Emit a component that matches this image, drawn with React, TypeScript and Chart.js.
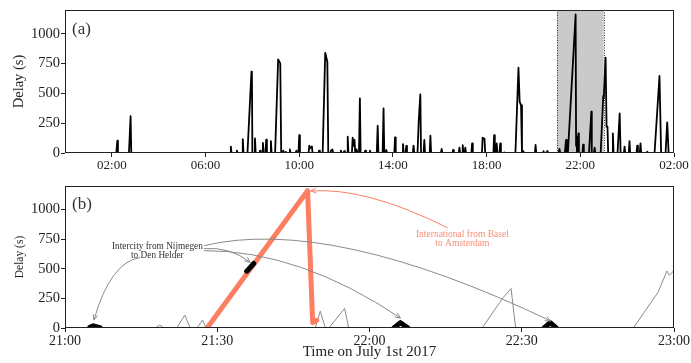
import React, { useEffect, useRef } from 'react';
import { Chart, registerables } from 'chart.js';
Chart.register(...registerables);

const FONT = '"Liberation Serif", "DejaVu Serif", serif';

// ---------- Panel (a): delay over the whole day (hours since 00:00, July 1st) ----------
const topHours = [
  0,
  2.19, 2.235, 2.26,
  2.73, 2.8, 2.83,
  7.05, 7.08, 7.11,
  7.31, 7.34, 7.37,
  7.56, 7.59, 7.62,
  7.79, 7.96, 7.98, 8.0,
  8.08, 8.11, 8.14,
  8.3, 8.33, 8.36,
  8.42, 8.45, 8.48,
  8.56, 8.59, 8.62,
  8.76, 8.79, 8.82,
  8.97, 9.1, 9.19, 9.23,
  9.29, 9.32, 9.35,
  9.4, 9.43, 9.46,
  9.57, 9.6, 9.63,
  9.85, 9.88, 9.91,
  9.97, 10.0, 10.03,
  10.4, 10.43, 10.46, 10.54, 10.57,
  10.82, 10.85, 10.88,
  11.0, 11.11, 11.2, 11.24,
  11.32, 11.35, 11.42, 11.45,
  11.75, 11.78, 11.81,
  11.89, 11.92, 11.95,
  12.04, 12.07, 12.1,
  12.25, 12.28, 12.33, 12.36, 12.39,
  12.42, 12.45, 12.48,
  12.55, 12.59, 12.62,
  12.79, 12.82, 12.85,
  12.99, 13.02, 13.05,
  13.31, 13.35, 13.38,
  13.56, 13.6, 13.63,
  13.69, 13.72, 13.75,
  14.06, 14.09, 14.12,
  14.4, 14.43, 14.46,
  14.54, 14.57, 14.6,
  14.85, 14.88, 14.91,
  15.05, 15.1, 15.17, 15.2,
  15.31, 15.34, 15.37,
  15.57, 15.6, 15.63,
  16.05, 16.08, 16.11,
  16.54, 16.57, 16.6,
  16.81, 16.84, 16.87,
  16.95, 16.98, 17.01,
  17.06, 17.09, 17.12,
  17.35, 17.38, 17.41,
  17.8, 17.83, 17.91, 17.94,
  18.29, 18.32, 18.35,
  18.4, 18.43, 18.46,
  18.55, 18.58, 18.61,
  18.73, 18.76, 18.79,
  19.23, 19.36, 19.41, 19.47, 19.51,
  19.54, 19.57, 19.6,
  20.06, 20.09, 20.12,
  20.4, 20.43, 20.46,
  20.55, 20.58, 20.61,
  21.08, 21.11, 21.14,
  21.34, 21.39, 21.42,
  21.43, 21.45, 21.47,
  21.8, 21.82, 21.84, 21.86,
  21.87, 21.92, 21.94,
  22.09, 22.12, 22.15,
  22.37, 22.47, 22.49,
  22.58, 22.61, 22.64,
  22.87, 22.98, 23.0, 23.08, 23.12, 23.16, 23.19,
  23.36, 23.39, 23.42,
  23.59, 23.68, 23.72,
  23.86, 23.89, 23.92,
  24.07, 24.1, 24.13,
  24.4, 24.43, 24.46,
  24.54, 24.57, 24.6,
  24.83, 24.86, 24.89,
  25.17, 25.38, 25.45,
  25.64, 25.71, 25.77,
  26,
];
const topDelays = [
  0,
  0, 103, 0,
  0, 310, 0,
  0, 53, 0,
  0, 20, 0,
  0, 117, 0,
  0, 682, 660, 0,
  0, 123, 0,
  0, 20, 0,
  0, 84, 0,
  0, 112, 0,
  0, 100, 0,
  0, 786, 752, 0,
  0, 20, 0,
  0, 10, 0,
  0, 30, 0,
  0, 20, 0,
  0, 150, 0,
  0, 62, 40, 55, 0,
  0, 20, 0,
  0, 841, 766, 0,
  0, 20, 30, 0,
  0, 20, 0,
  0, 15, 0,
  0, 137, 0,
  0, 128, 60, 110, 0,
  0, 30, 0,
  0, 459, 0,
  0, 20, 0,
  0, 20, 0,
  0, 229, 0,
  0, 375, 0,
  0, 25, 0,
  0, 131, 0,
  0, 75, 0,
  0, 60, 0,
  0, 62, 0,
  0, 263, 492, 0,
  0, 109, 0,
  0, 145, 0,
  0, 35, 0,
  0, 25, 0,
  0, 45, 0,
  0, 65, 0,
  0, 45, 0,
  0, 80, 0,
  0, 128, 120, 0,
  0, 150, 0,
  0, 80, 0,
  0, 80, 0,
  0, 5, 0,
  0, 716, 431, 400, 0,
  0, 15, 0,
  0, 67, 0,
  0, 15, 0,
  0, 15, 0,
  0, 35, 0,
  0, 110, 0,
  0, 65, 0,
  1163, 60, 140, 0,
  0, 165, 0,
  0, 70, 0,
  0, 347, 0,
  0, 45, 0,
  0, 480, 460, 800, 221, 221, 0,
  0, 165, 0,
  0, 333, 0,
  0, 53, 0,
  0, 100, 0,
  0, 62, 0,
  0, 81, 0,
  0, 10, 0,
  0, 646, 0,
  0, 257, 0,
  0,
];
const topXTicks = [2, 6, 10, 14, 18, 22, 26];
const topXTickLabels = ['02:00', '06:00', '10:00', '14:00', '18:00', '22:00', '02:00'];
const highlightStart = 21;
const highlightEnd = 23;

const yTicks = [0, 250, 500, 750, 1000];
const yTickLabels = ['0', '250', '500', '750', '1000'];

// ---------- Panel (b): minutes after 21:00 ----------
const otherMinutes = [
  17.8, 18.7, 19.5, null,
  22.0, 23.6, 24.7, null,
  26.0, 27.1, 27.8, null,
  49.3, 50.3, 51.3, null,
  52.0, 55.1, 55.9, null,
  82.2, 86.2, 87.9, 88.8, null,
  112.0, 116.9, 118.6, 119.1, 119.9, 120,
];
const otherDelays = [
  0, 25, 0, null,
  0, 109, 0, null,
  0, 67, 0, null,
  0, 143, 0, null,
  0, 165, 0, null,
  0, 250, 333, 0, null,
  0, 305, 482, 445, 482, 475,
];
const internationalMinutes = [28.0, 47.8, 48.8, 49.6];
const internationalDelays = [0, 1160, 45, 65];
const intercityMinutes = [4.9, 5.6, 6.9, null, 35.8, 37.2, null, 64.8, 66.1, 67.6, null, 94.4, 95.6, 96.8];
const intercityDelays = [5, 18, 2, null, 480, 545, null, 0, 45, 0, null, 0, 45, 0];

const bottomXTicks = [0, 30, 60, 90, 120];
const bottomXTickLabels = ['21:00', '21:30', '22:00', '22:30', '23:00'];

const intercityNote = ['Intercity from Nijmegen', 'to Den Helder'];
const internationalNote = ['International from Basel', 'to Amsterdam'];

const GREY = '#8a8a8a';
const ORANGE = '#fc7f62';

// annotation geometry (data coordinates: minutes, delay)
const noteArrows = [
  { from: [14.8, 596], ctrl: [8.9, 554], to: [5.7, 67], color: GREY },
  { from: [27.4, 671], ctrl: [32.6, 688], to: [36.5, 554], color: GREY },
  { from: [27.4, 654], ctrl: [46.4, 654], to: [66.1, 84], color: GREY },
  { from: [27.4, 696], ctrl: [52.3, 948], to: [95.7, 59], color: GREY },
  { from: [75.4, 847], ctrl: [59.2, 1192], to: [48.4, 1158], color: ORANGE },
];
const noteTexts = [
  { lines: intercityNote, x: 18.2, y: [690, 614], color: '#333', size: 9.3 },
  { lines: internationalNote, x: 78.3, y: [786, 711], color: '#f98d74', size: 9.5 },
];

const pts = (xs: (number | null)[], ys: (number | null)[]) =>
  xs.map((x, i) => ({ x: x as number, y: ys[i] as number }));

function framePlugin(label: string, dy: number, shade: boolean) {
  return {
    id: 'frame_' + label,
    beforeDatasetsDraw(chart: any) {
      if (!shade) return;
      const { ctx, chartArea: a } = chart;
      const xs = chart.scales.x;
      const x0 = xs.getPixelForValue(highlightStart);
      const x1 = xs.getPixelForValue(highlightEnd);
      ctx.save();
      ctx.fillStyle = '#c9cac9';
      ctx.fillRect(x0, a.top, x1 - x0, a.bottom - a.top);
      ctx.strokeStyle = '#333';
      ctx.lineWidth = 1;
      ctx.setLineDash([1, 1.5]);
      [x0, x1].forEach((x) => {
        ctx.beginPath();
        ctx.moveTo(Math.round(x) + 0.5, a.top);
        ctx.lineTo(Math.round(x) + 0.5, a.bottom);
        ctx.stroke();
      });
      ctx.restore();
    },
    afterDraw(chart: any) {
      const { ctx, chartArea: a } = chart;
      ctx.save();
      ctx.strokeStyle = '#222';
      ctx.lineWidth = 1;
      ctx.strokeRect(Math.round(a.left) + 0.5, Math.round(a.top) + 0.5, Math.round(a.right - a.left) - 1, Math.round(a.bottom - a.top) - 1);
      ctx.fillStyle = '#333';
      ctx.font = '17px ' + FONT;
      ctx.textBaseline = 'alphabetic';
      ctx.textAlign = 'left';
      ctx.fillText(label, a.left + 7, a.top + dy);
      ctx.restore();
    },
  };
}

const notesPlugin = {
  id: 'notes',
  afterDatasetsDraw(chart: any) {
    const { ctx } = chart;
    const xs = chart.scales.x;
    const ys = chart.scales.y;
    const P = (p: number[]) => [xs.getPixelForValue(p[0]), ys.getPixelForValue(p[1])];
    ctx.save();
    noteArrows.forEach((ar) => {
      const f = P(ar.from), c = P(ar.ctrl), t = P(ar.to);
      ctx.strokeStyle = ar.color;
      ctx.lineWidth = 1;
      ctx.beginPath();
      ctx.moveTo(f[0], f[1]);
      ctx.quadraticCurveTo(c[0], c[1], t[0], t[1]);
      ctx.stroke();
      const ang = Math.atan2(t[1] - c[1], t[0] - c[0]);
      const L = 6;
      ctx.beginPath();
      ctx.moveTo(t[0] - L * Math.cos(ang - 0.4), t[1] - L * Math.sin(ang - 0.4));
      ctx.lineTo(t[0], t[1]);
      ctx.lineTo(t[0] - L * Math.cos(ang + 0.4), t[1] - L * Math.sin(ang + 0.4));
      ctx.stroke();
    });
    noteTexts.forEach((nt) => {
      ctx.fillStyle = nt.color;
      ctx.font = nt.size + 'px ' + FONT;
      ctx.textAlign = 'center';
      ctx.textBaseline = 'middle';
      nt.lines.forEach((ln, i) => {
        ctx.fillText(ln, xs.getPixelForValue(nt.x), ys.getPixelForValue(nt.y[i]));
      });
    });
    ctx.restore();
  },
};

function yScale(titleSize: number, titlePad: number) {
  return {
    type: 'linear',
    min: 0,
    max: 1200,
    afterBuildTicks: (s: any) => { s.ticks = yTicks.map((v) => ({ value: v })); },
    afterFit: (s: any) => { s.width = 65; },
    ticks: {
      callback: (_v: any, i: number) => yTickLabels[i],
      font: { family: FONT, size: 14.5 },
      color: '#222',
      padding: 1,
    },
    grid: { display: true, drawOnChartArea: false, drawTicks: true, tickLength: 4, color: '#222' },
    border: { display: false },
    title: {
      display: true,
      text: 'Delay (s)',
      font: { family: FONT, size: titleSize },
      color: '#222',
      padding: { top: titlePad, bottom: 0 },
    },
  };
}

function topConfig(): any {
  return {
    type: 'line',
    data: {
      datasets: [
        {
          data: pts(topHours, topDelays),
          borderColor: '#000',
          borderWidth: 1.8,
          pointRadius: 0,
          tension: 0,
          borderJoinStyle: 'round',
          borderCapStyle: 'round',
        },
      ],
    },
    options: {
      responsive: false,
      animation: false,
      devicePixelRatio: 1,
      layout: { padding: { left: 0, right: 17, top: 10, bottom: 0 } },
      plugins: { legend: { display: false }, tooltip: { enabled: false } },
      scales: {
        x: {
          type: 'linear',
          min: 0,
          max: 26,
          afterBuildTicks: (s: any) => { s.ticks = topXTicks.map((v) => ({ value: v })); },
          afterFit: (s: any) => { s.height = 22; },
          ticks: {
            callback: (_v: any, i: number) => topXTickLabels[i],
            font: { family: FONT, size: 13 },
            color: '#222',
            maxRotation: 0,
            autoSkip: false,
            padding: 1,
          },
          grid: { display: true, drawOnChartArea: false, drawTicks: true, tickLength: 4, color: '#222' },
          border: { display: false },
        },
        y: yScale(14.5, 10.3),
      },
    },
    plugins: [framePlugin('(a)', 24, true)],
  };
}

function bottomConfig(): any {
  return {
    type: 'line',
    data: {
      datasets: [
        {
          data: pts(intercityMinutes, intercityDelays),
          borderColor: '#000',
          borderWidth: 5,
          pointRadius: 0,
          tension: 0,
          spanGaps: false,
          borderJoinStyle: 'round',
          borderCapStyle: 'round',
        },
        {
          data: pts(internationalMinutes, internationalDelays),
          borderColor: ORANGE,
          borderWidth: 5,
          pointRadius: 0,
          tension: 0,
          borderJoinStyle: 'round',
          borderCapStyle: 'round',
        },
        {
          data: pts(otherMinutes, otherDelays),
          borderColor: GREY,
          borderWidth: 1,
          pointRadius: 0,
          tension: 0,
          spanGaps: false,
        },
      ],
    },
    options: {
      responsive: false,
      animation: false,
      devicePixelRatio: 1,
      layout: { padding: { left: 0, right: 17, top: 11, bottom: 0 } },
      plugins: { legend: { display: false }, tooltip: { enabled: false } },
      scales: {
        x: {
          type: 'linear',
          min: 0,
          max: 120,
          afterBuildTicks: (s: any) => { s.ticks = bottomXTicks.map((v) => ({ value: v })); },
          afterFit: (s: any) => { s.height = 35; },
          ticks: {
            callback: (_v: any, i: number) => bottomXTickLabels[i],
            font: { family: FONT, size: 14 },
            color: '#222',
            maxRotation: 0,
            autoSkip: false,
            padding: 1,
          },
          grid: { display: true, drawOnChartArea: false, drawTicks: true, tickLength: 4, color: '#222' },
          border: { display: false },
          title: {
            display: true,
            text: 'Time on July 1st 2017',
            font: { family: FONT, size: 15 },
            color: '#222',
            padding: { top: 0, bottom: 2 },
          },
        },
        y: yScale(11.5, 13),
      },
    },
    plugins: [framePlugin('(b)', 23, false), notesPlugin],
  };
}

export default function App() {
  const topRef = useRef<HTMLCanvasElement>(null);
  const botRef = useRef<HTMLCanvasElement>(null);
  useEffect(() => {
    const c1 = new Chart(topRef.current as HTMLCanvasElement, topConfig());
    const c2 = new Chart(botRef.current as HTMLCanvasElement, bottomConfig());
    return () => {
      c1.destroy();
      c2.destroy();
    };
  }, []);
  return (
    <div style={{ position: 'absolute', left: 0, top: 0, width: 691, height: 363, background: '#fff' }}>
      <canvas ref={topRef} width={691} height={175} style={{ display: 'block' }} />
      <canvas ref={botRef} width={691} height={188} style={{ display: 'block' }} />
    </div>
  );
}
